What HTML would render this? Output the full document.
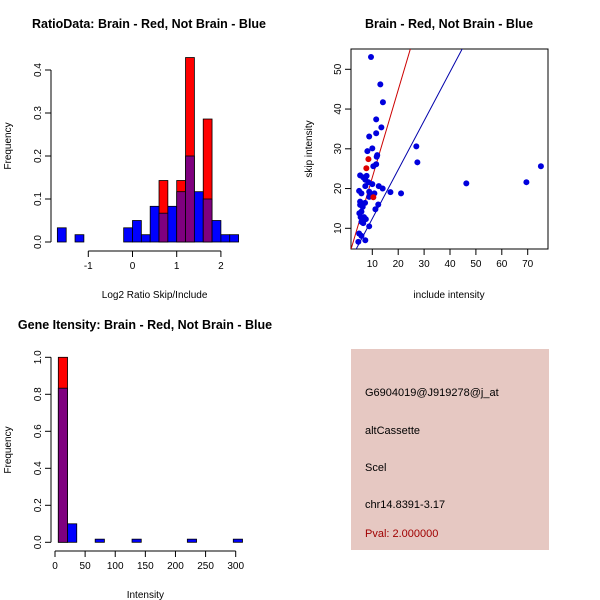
<!DOCTYPE html>
<html><head><meta charset="utf-8"><style>
body{margin:0;background:#fff}
svg{display:block;font-family:"Liberation Sans",sans-serif}
</style></head><body>
<svg id="c" width="600" height="600" viewBox="0 0 600 600">
<rect width="600" height="600" fill="#fff"/>
<g id="p1"></g>
<g id="p2"></g>
<g id="p3"></g>
<g>
<rect x="351" y="349" width="198" height="201" fill="#e6c8c2"/>
<text x="365" y="396" font-size="11">G6904019@J919278@j_at</text>
<text x="365" y="434" font-size="11">altCassette</text>
<text x="365" y="471" font-size="11">Scel</text>
<text x="365" y="508" font-size="11">chr14.8391-3.17</text>
<text x="365" y="537" font-size="11" fill="#a00000">Pval: 2.000000</text>
</g>
</svg>
<script>
// Ratio histogram data
const ratioBinStart = [-1.7,-1.3,-0.2,0,0.2,0.4,0.6,0.8,1.0,1.2,1.4,1.6,1.8,2.0,2.2];
const ratioBlue = [0.033,0.017,0.033,0.05,0.017,0.083,0.067,0.083,0.117,0.2,0.117,0.1,0.05,0.017,0.017];
const ratioRedStart = [0.6,1.0,1.2,1.6];
const ratioRed = [0.143,0.143,0.429,0.286];
const ratioBinWidth = 0.2;
const ratioXTicks = [-1,0,1,2];
const ratioYTicks = [0,0.1,0.2,0.3,0.4];
// Scatter data
const includeBlue = [9.5,13.1,14.1,11.5,13.5,11.5,8.8,10,8.1,11.9,11.7,11.5,10.4,27.0,27.4,75.1,69.5,46.3,21.1,17.0,14.0,12.5,5.3,6.5,7.8,7.3,7.3,8.5,10.0,4.9,5.8,8.8,8.8,10.8,9.5,5.3,7.2,12.3,5.3,6.3,11.2,5.8,5.0,5.5,6.8,7.5,5.8,6.5,8.8,4.9,5.8,7.3,4.6];
const skipBlue = [53.1,46.2,41.7,37.4,35.4,33.9,33.1,30.1,29.4,28.4,28.0,26.1,25.6,30.6,26.6,25.6,21.6,21.3,18.8,19.1,20.0,20.6,23.3,22.8,23.2,22.2,20.6,21.6,21.1,19.4,18.8,19.2,17.9,18.8,18.4,16.7,16.4,16.0,15.9,15.4,14.8,14.2,13.8,12.8,12.8,12.3,11.6,11.3,10.5,8.7,8.1,7.0,6.6];
const includeRed = [8.5,7.7,10.4];
const skipRed = [27.4,25.1,17.8];
const redFit = [0.8,2.2];   // intercept, slope
const blueFit = [0.13,1.23];
const scatterXTicks = [10,20,30,40,50,60,70];
const scatterYTicks = [10,20,30,40,50];
// Gene intensity histogram
const intBinStart = [5.5,20.8,66.7,127.9,219.7,296.0];
const intBlue = [0.833,0.1,0.017,0.017,0.017,0.017];
const intRedStart = [5.5];
const intRed = [1.0];
const intBinWidth = 15.3;
const intXTicks = [0,50,100,150,200,250,300];
const intYTicks = [0,0.2,0.4,0.6,0.8,1.0];

const NS="http://www.w3.org/2000/svg";
function mk(parent,tag,attrs,txt){const e=document.createElementNS(NS,tag);for(const k in attrs)e.setAttribute(k,attrs[k]);if(txt!==undefined)e.textContent=txt;parent.appendChild(e);return e;}
function lin(d0,d1,r0,r1){return v=>r0+(v-d0)*(r1-r0)/(d1-d0);}

function hist(g,X,Y,bs,bv,rs,rv,w,xt,yt,axY,title,tx,xlab,xlabY,ylabY,fmt){
  rs.forEach((s,i)=>{const r=mk(g,'rect',{x:X(s),y:Y(rv[i]),width:X(s+w)-X(s),height:Y(0)-Y(rv[i]),fill:'#ff0000',stroke:'#000','stroke-width':0.8});
    
    });
  bs.forEach((s,i)=>{const ri=rs.findIndex(q=>Math.abs(q-s)<1e-6);const over=ri>=0;
    const r=mk(g,'rect',{x:X(s),y:Y(bv[i]),width:X(s+w)-X(s),height:Y(0)-Y(bv[i]),fill:over?'#7f007f':'#0000ff',stroke:'#000','stroke-width':0.8});
    
    });
  const x0=X(xt[0]),x1=X(xt[xt.length-1]);
  mk(g,'line',{x1:x0,x2:x1,y1:axY,y2:axY,stroke:'#000'});
  xt.forEach(t=>{mk(g,'line',{x1:X(t),x2:X(t),y1:axY,y2:axY+6,stroke:'#000'});
    const l=mk(g,'text',{x:X(t),y:axY+18,'font-size':10,'text-anchor':'middle'},String(t));
    
    });
  const ax=51;
  mk(g,'line',{x1:ax,x2:ax,y1:Y(yt[0]),y2:Y(yt[yt.length-1]),stroke:'#000'});
  yt.forEach(t=>{mk(g,'line',{x1:ax,x2:ax-6,y1:Y(t),y2:Y(t),stroke:'#000'});
    const l=mk(g,'text',{x:0,y:0,'font-size':10,'text-anchor':'middle',transform:`translate(${ax-10},${Y(t)}) rotate(-90)`},fmt(t));
    
    });
  const ti=mk(g,'text',{x:tx,y:title[1],'font-size':12.5,'font-weight':'bold','text-anchor':'middle'},title[0]);
  
  
  const xl=mk(g,'text',{x:(x0+x1)/2+(xlab[1]||0),y:xlabY,'font-size':10,'text-anchor':'middle'},xlab[0]);
  
  
  const yl=mk(g,'text',{x:0,y:0,'font-size':10,'text-anchor':'middle',transform:`translate(11,${ylabY}) rotate(-90)`},'Frequency');
  
  
}
const p1=document.getElementById('p1');
hist(p1,lin(0,1,132.5,176.7),lin(0,0.4,242,70),ratioBinStart,ratioBlue,ratioRedStart,ratioRed,ratioBinWidth,ratioXTicks,ratioYTicks,251,['RatioData: Brain - Red, Not Brain - Blue',28],149,['Log2 Ratio Skip/Include',0],298,146,t=>t.toFixed(1));
const p3=document.getElementById('p3');
hist(p3,lin(0,300,55,235.7),lin(0,1,542.3,357.3),intBinStart,intBlue,intRedStart,intRed,intBinWidth,intXTicks,intYTicks,551,['Gene Itensity: Brain - Red, Not Brain - Blue',329],145,['Intensity',0],598,450,t=>t.toFixed(1));

const p2=document.getElementById('p2');
const SX=lin(10,70,372.3,527.7),SY=lin(10,50,228.3,69.3);
const L=351,R=548,T=49,B=249;
mk(p2,'rect',{x:L,y:T,width:R-L,height:B-T,fill:'none',stroke:'#000'});
const clip=mk(p2,'clipPath',{id:'sc'});mk(clip,'rect',{x:L,y:T,width:R-L,height:B-T});
const cg=mk(p2,'g',{'clip-path':'url(#sc)'});
function fitLine(f,col,nm){const xa=1.8,xb=80;const l=mk(cg,'line',{x1:SX(xa),y1:SY(f[0]+f[1]*xa),x2:SX(xb),y2:SY(f[0]+f[1]*xb),stroke:col,'stroke-width':1});
  
  }
fitLine(redFit,'#cc0000','red-fit-line');
fitLine(blueFit,'#0000aa','blue-fit-line');
includeBlue.forEach((v,i)=>{const c=mk(cg,'circle',{cx:SX(v),cy:SY(skipBlue[i]),r:3,fill:'#0000dd'});
  
  });
includeRed.forEach((v,i)=>{const c=mk(cg,'circle',{cx:SX(v),cy:SY(skipRed[i]),r:3,fill:'#dd0000'});
  
  });
scatterXTicks.forEach(t=>{mk(p2,'line',{x1:SX(t),x2:SX(t),y1:B,y2:B+6,stroke:'#000'});
  const l=mk(p2,'text',{x:SX(t),y:B+18,'font-size':10,'text-anchor':'middle'},String(t));
  
  });
scatterYTicks.forEach(t=>{mk(p2,'line',{x1:L,x2:L-6,y1:SY(t),y2:SY(t),stroke:'#000'});
  const l=mk(p2,'text',{x:0,y:0,'font-size':10,'text-anchor':'middle',transform:`translate(${L-10},${SY(t)}) rotate(-90)`},String(t));
  
  });
const st=mk(p2,'text',{x:449,y:28,'font-size':12.5,'font-weight':'bold','text-anchor':'middle'},'Brain - Red, Not Brain - Blue');


const sxl=mk(p2,'text',{x:449,y:298,'font-size':10,'text-anchor':'middle'},'include intensity');


const syl=mk(p2,'text',{x:0,y:0,'font-size':10,'text-anchor':'middle',transform:'translate(312,149) rotate(-90)'},'skip intensity');


</script>
</body></html>
